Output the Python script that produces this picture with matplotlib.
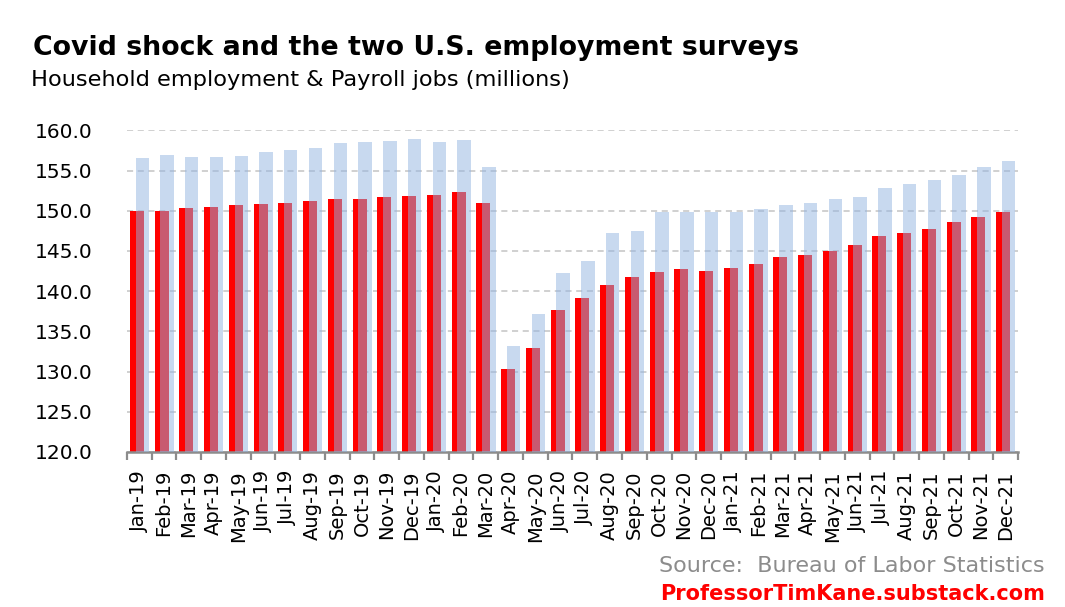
import matplotlib
matplotlib.use("Agg")
import matplotlib.pyplot as plt
import numpy as np

# Monthly labels, Jan-19 .. Dec-21
months = ["Jan", "Feb", "Mar", "Apr", "May", "Jun",
          "Jul", "Aug", "Sep", "Oct", "Nov", "Dec"]
labels = [f"{m}-{y}" for y in ["19", "20", "21"] for m in months]

# Payroll jobs (millions) - red bars
payroll = [150.0, 150.0, 150.3, 150.5, 150.7, 150.8, 150.9, 151.2, 151.4, 151.4, 151.7, 151.8,
           152.0, 152.3, 150.9, 130.3, 132.9, 137.7, 139.2, 140.8, 141.7, 142.4, 142.7, 142.5,
           142.9, 143.4, 144.2, 144.5, 145.0, 145.8, 146.8, 147.2, 147.7, 148.6, 149.2, 149.8]

# Household employment (millions) - light blue bars
household = [156.5, 156.9, 156.7, 156.7, 156.8, 157.3, 157.5, 157.8, 158.4, 158.5, 158.7, 158.9,
             158.5, 158.8, 155.4, 133.2, 137.2, 142.3, 143.8, 147.2, 147.5, 149.9, 149.9, 149.9,
             149.8, 150.2, 150.7, 151.0, 151.5, 151.7, 152.8, 153.3, 153.8, 154.4, 155.5, 156.2]

x = np.arange(len(labels))

fig = plt.figure(figsize=(10.65, 6.07), dpi=100)
ax = fig.add_axes([0.1192, 0.2554, 0.8367, 0.5299])

ax.bar(x - 0.1, payroll, width=0.57, color="#ff0000", zorder=2)
ax.bar(x + 0.12, household, width=0.54, color=(147/255, 180/255, 225/255), alpha=0.5, zorder=3)

ax.set_ylim(120, 160)
ax.set_xlim(-0.5, len(labels) - 0.5)
yt = np.arange(120, 161, 5)
ax.set_yticks(yt)
ax.set_yticklabels([f"{v:.1f}" for v in yt], fontsize=14.5)
ax.yaxis.grid(True, linestyle=(0, (4, 3)), color="#c4c4c4", linewidth=1.1, zorder=0)
ax.set_axisbelow(True)

ax.set_xticks(x)
ax.set_xticklabels(labels, rotation=90, fontsize=14)
ax.set_xticks(np.arange(-0.5, len(labels), 1), minor=True)
ax.tick_params(axis="x", which="major", length=0, pad=13)
ax.tick_params(axis="x", which="minor", length=6, width=1.6, color="#8c8c8c")
ax.tick_params(axis="y", length=0, pad=25)

for s in ["top", "right", "left"]:
    ax.spines[s].set_visible(False)
ax.spines["bottom"].set_color("#8c8c8c")
ax.spines["bottom"].set_linewidth(1.8)

fig.text(0.031, 0.909, "Covid shock and the two U.S. employment surveys",
         fontsize=19.3, fontweight="bold", ha="left", va="baseline")
fig.text(0.029, 0.858, "Household employment & Payroll jobs (millions)",
         fontsize=16.2, ha="left", va="baseline")
fig.text(0.981, 0.058, "Source:  Bureau of Labor Statistics",
         fontsize=16, color="#8c8c8c", ha="right", va="baseline")
fig.text(0.981, 0.012, "ProfessorTimKane.substack.com",
         fontsize=15, fontweight="bold", color="#ff0000", ha="right", va="baseline")

fig.savefig("out.png", dpi=100)
